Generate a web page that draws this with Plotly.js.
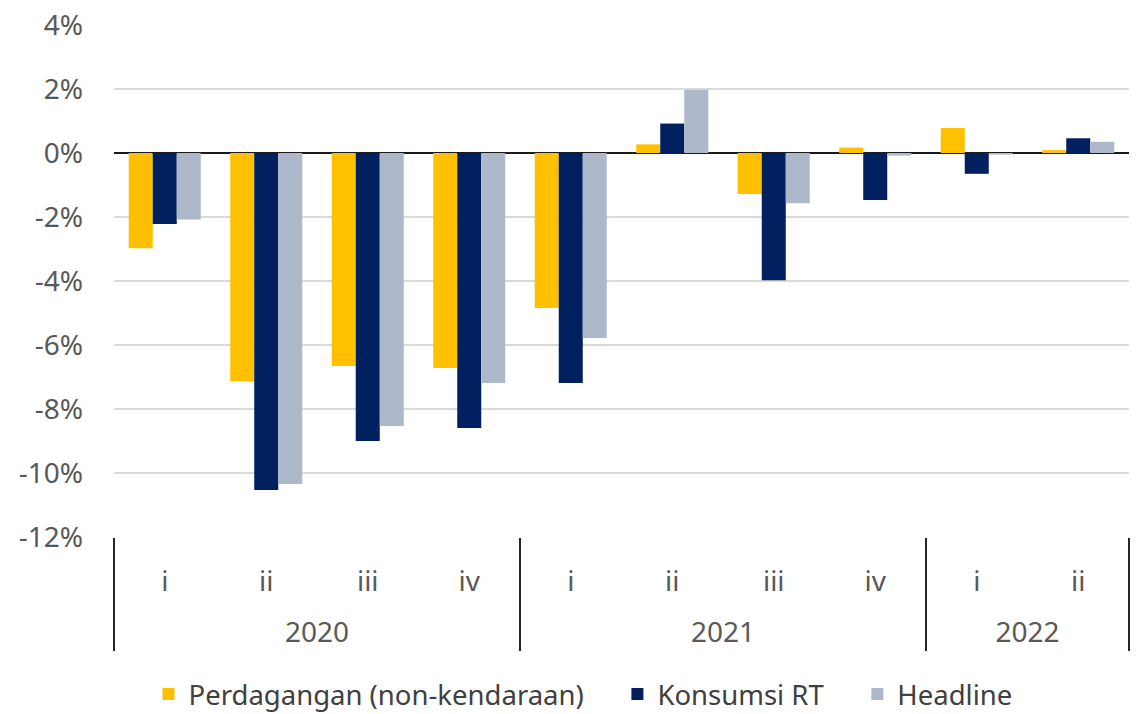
<!DOCTYPE html>
<html>
<head>
<meta charset="utf-8">
<script src="https://cdn.plot.ly/plotly-3.0.1.min.js"></script>
<style>html,body{margin:0;padding:0;background:#fff;}#chart{width:1139px;height:714px;}</style>
</head>
<body>
<div id="chart"></div>
<script>
const years = ["2020","2020","2020","2020","2021","2021","2021","2021","2022","2022"];
const quarters = ["i","ii","iii","iv","i","ii","iii","iv","i","ii"];
const perdagangan = [-2.98, -7.13, -6.66, -6.72, -4.84, 0.27, -1.28, 0.17, 0.78, 0.09];
const konsumsiRT = [-2.22, -10.53, -9.00, -8.59, -7.19, 0.92, -3.98, -1.47, -0.65, 0.46];
const headline = [-2.08, -10.34, -8.53, -7.19, -5.78, 1.97, -1.57, -0.08, -0.05, 0.35];
const yTicks = [4, 2, 0, -2, -4, -6, -8, -10, -12];
const yTickLabels = ["4%", "2%", "0%", "-2%", "-4%", "-6%", "-8%", "-10%", "-12%"];
const seriesNames = ["Perdagangan (non-kendaraan)", "Konsumsi RT", "Headline"];

const pad = "\u00a0\u00a0\u00a0\u00a0";
// year labels get an invisible first line so the year row sits lower
const yLabels = years.map(y => "<span style='font-size:17px;color:rgba(0,0,0,0)'>.</span><br>" + y);
const x = [yLabels, quarters];
const font = "'Noto Sans', 'Open Sans', sans-serif";

const traces = [
  {type: "bar", name: seriesNames[0] + pad, x: x, y: perdagangan, marker: {color: "#FFC000"}},
  {type: "bar", name: seriesNames[1] + pad, x: x, y: konsumsiRT, marker: {color: "#002060"}},
  {type: "bar", name: seriesNames[2], x: x, y: headline, marker: {color: "#ADB9CA"}}
];

const layout = {
  width: 1139, height: 714,
  margin: {l: 114, r: 10, t: 25, b: 177, autoexpand: false},
  paper_bgcolor: "#fff", plot_bgcolor: "#fff",
  font: {family: font, size: 28, color: "#595959"},
  barmode: "group", bargap: 0.29, bargroupgap: 0,
  showlegend: true,
  legend: {orientation: "h", x: 0.034, xanchor: "left", y: -0.307, yanchor: "middle",
           font: {size: 27.5, color: "#404040"}, itemwidth: 30, traceorder: "normal"},
  xaxis: {type: "multicategory", showgrid: false, zeroline: false,
          showline: false, ticks: "", ticklabelstandoff: 25,
          showdividers: true, dividercolor: "#262626", dividerwidth: 1.5,
          tickfont: {size: 28, color: "#595959"}},
  yaxis: {range: [-12, 4], tickvals: yTicks, ticktext: yTickLabels,
          showgrid: true, gridcolor: "#D9D9D9", gridwidth: 1.3,
          zeroline: true, zerolinecolor: "#1a1a1a", zerolinewidth: 2,
          showline: false, ticks: "", ticklabelstandoff: 30,
          tickfont: {size: 28, color: "#595959"}}
};

Plotly.newPlot("chart", traces, layout, {displayModeBar: false, staticPlot: true});
</script>
</body>
</html>
